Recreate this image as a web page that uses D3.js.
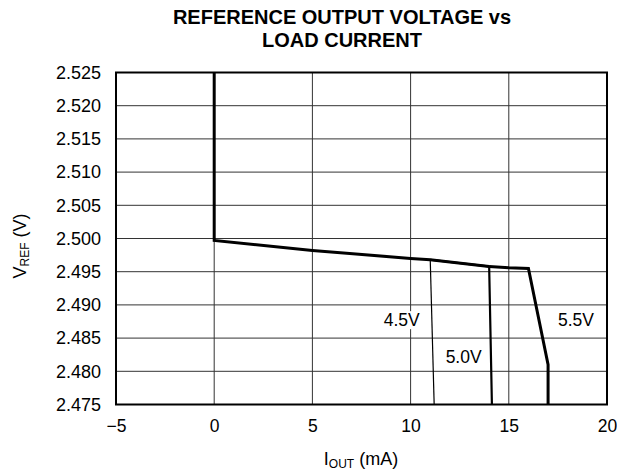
<!DOCTYPE html>
<html><head><meta charset="utf-8">
<script src="https://cdn.jsdelivr.net/npm/d3@7"></script>
<style>body{margin:0;background:#fff}svg{display:block}text{font-family:"Liberation Sans",Arial,sans-serif}</style>
</head><body>
<svg id="c" width="617" height="470"></svg>
<script>
const xTicks = [-5, 0, 5, 10, 15, 20];
const yTicks = [2.475, 2.480, 2.485, 2.490, 2.495, 2.500, 2.505, 2.510, 2.515, 2.520, 2.525];
// shared curve (all supply voltages), in mA / V
const commonX = [0, 0, 5, 10, 11, 14];
const commonY = [2.525, 2.4997, 2.4982, 2.4970, 2.4968, 2.4958];
// 4.5V branch
const v45X = [11, 11.2];
const v45Y = [2.4968, 2.475];
// 5.0V branch
const v50X = [11, 14, 14.14];
const v50Y = [2.4968, 2.4958, 2.475];
// 5.5V branch
const v55X = [14, 15, 16, 17, 17];
const v55Y = [2.4958, 2.4956, 2.4955, 2.481, 2.475];
const labels = [
  {text: "4.5V", x: 9.55, y: 2.4877},
  {text: "5.0V", x: 12.7, y: 2.4822},
  {text: "5.5V", x: 18.42, y: 2.4877}
];

const svg = d3.select("#c");
const L = 116, R = 607, T = 72.5, B = 404.5;
const x = d3.scaleLinear().domain([-5, 20]).range([L, R]);
const y = d3.scaleLinear().domain([2.475, 2.525]).range([B, T]);

// grid
svg.append("g").selectAll("line").data(xTicks).join("line")
  .attr("x1", d => x(d)).attr("x2", d => x(d)).attr("y1", T).attr("y2", B)
  .attr("stroke", "#333").attr("stroke-width", 1);
svg.append("g").selectAll("line").data(yTicks).join("line")
  .attr("y1", d => y(d)).attr("y2", d => y(d)).attr("x1", L).attr("x2", R)
  .attr("stroke", "#333").attr("stroke-width", 1);

// axes (labels only)
const xa = svg.append("g").attr("transform", `translate(0,${B})`)
  .call(d3.axisBottom(x).tickValues(xTicks).tickSize(0).tickPadding(15)
    .tickFormat(d => d < 0 ? "\u2212" + Math.abs(d) : d));
xa.select(".domain").remove();
xa.selectAll("text").attr("font-size", 17.5).attr("fill", "#000").attr("font-family", "Liberation Sans, Arial, sans-serif");
const ya = svg.append("g").attr("transform", `translate(${L},0)`)
  .call(d3.axisLeft(y).tickValues(yTicks).tickSize(0).tickPadding(15).tickFormat(d3.format(".3f")));
ya.select(".domain").remove();
ya.selectAll("text").attr("font-size", 18).attr("fill", "#000").attr("font-family", "Liberation Sans, Arial, sans-serif");

const line = d3.line().x(d => x(d[0])).y(d => y(d[1]));
const zip = (a, b) => a.map((v, i) => [v, b[i]]);

// labels with white background
labels.forEach(l => {
  const g = svg.append("g");
  const t = g.append("text").attr("x", x(l.x)).attr("y", y(l.y)).attr("text-anchor", "middle")
    .attr("dominant-baseline", "central").attr("font-size", 17.5).text(l.text);
  const bb = t.node().getBBox();
  g.insert("rect", "text").attr("x", bb.x - 1).attr("y", bb.y + 1).attr("width", bb.width + 2).attr("height", bb.height - 2).attr("fill", "#fff");
});

svg.append("path").datum(zip(v45X, v45Y)).attr("d", line).attr("fill", "none").attr("stroke", "#000").attr("stroke-width", 1.2);
svg.append("path").datum(zip(v50X, v50Y)).attr("d", line).attr("fill", "none").attr("stroke", "#000").attr("stroke-width", 2.2);
svg.append("path").datum(zip(v55X, v55Y)).attr("d", line).attr("fill", "none").attr("stroke", "#000").attr("stroke-width", 3);
svg.append("path").datum(zip(commonX, commonY)).attr("d", line).attr("fill", "none").attr("stroke", "#000").attr("stroke-width", 3);

// frame
svg.append("rect").attr("x", L).attr("y", T).attr("width", R - L).attr("height", B - T)
  .attr("fill", "none").attr("stroke", "#000").attr("stroke-width", 2);

// titles
svg.append("text").attr("x", 342).attr("y", 23.5).attr("text-anchor", "middle").attr("font-size", 20).attr("font-weight", "bold").text("REFERENCE OUTPUT VOLTAGE vs");
svg.append("text").attr("x", 342).attr("y", 46.5).attr("text-anchor", "middle").attr("font-size", 20).attr("font-weight", "bold").text("LOAD CURRENT");

const xt = svg.append("text").attr("x", 361).attr("y", 465).attr("text-anchor", "middle").attr("font-size", 18);
xt.append("tspan").text("I");
xt.append("tspan").attr("font-size", 12).attr("dy", 3).text("OUT");
xt.append("tspan").attr("dy", -3).text(" (mA)");

const yt = svg.append("text").attr("transform", "translate(26,246) rotate(-90)").attr("text-anchor", "middle").attr("font-size", 18);
yt.append("tspan").text("V");
yt.append("tspan").attr("font-size", 12).attr("dy", 3).text("REF");
yt.append("tspan").attr("dy", -3).text(" (V)");
</script>
</body></html>
